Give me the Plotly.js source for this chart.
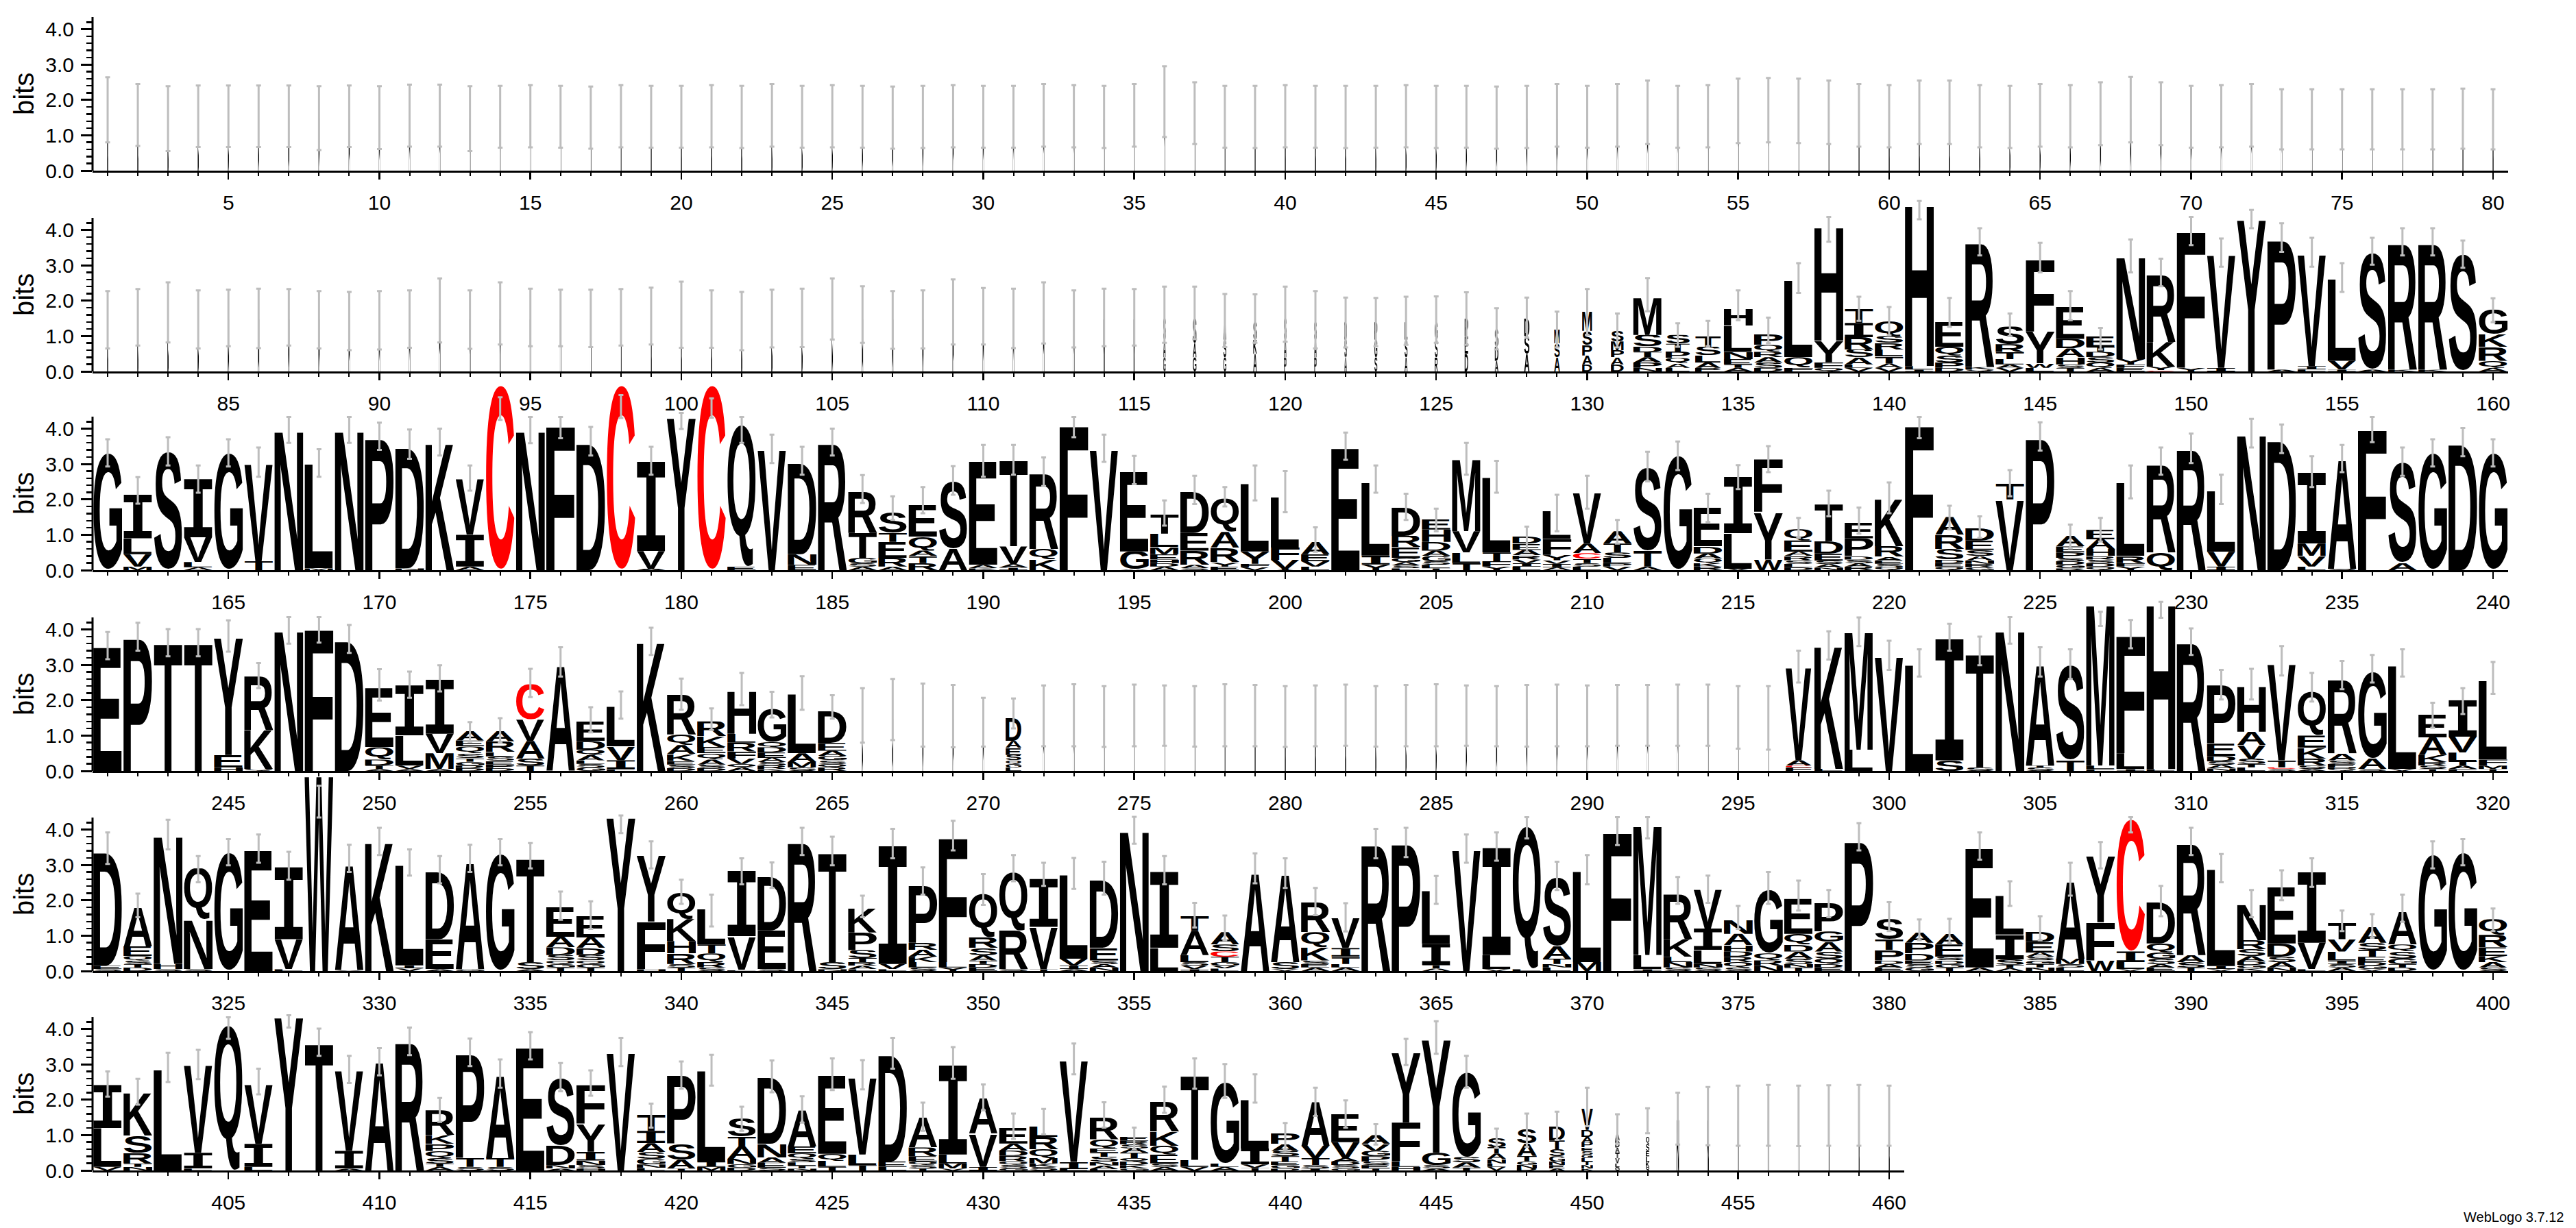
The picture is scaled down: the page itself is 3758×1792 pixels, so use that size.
<!DOCTYPE html>
<html>
<head>
<meta charset="utf-8">
<script src="https://cdn.plot.ly/plotly-3.0.1.min.js"></script>
<style>
html,body{margin:0;padding:0;background:#ffffff;}
#chart{width:3758px;height:1792px;}
</style>
</head>
<body>
<div id="chart"></div>
<script>
// ================= DATA =================
// first position of each of the six logo lines
const rowFirst = [1, 81, 161, 241, 321, 401];
const yTickVals = [0, 1, 2, 3, 4];
const yTickText = ['0.0', '1.0', '2.0', '3.0', '4.0'];
const yMinorVals = [0.2,0.4,0.6,0.8,1.2,1.4,1.6,1.8,2.2,2.4,2.6,2.8,3.2,3.4,3.6,3.8,4.2];
const yTitle = 'bits';
const footerText = 'WebLogo 3.7.12';
const redLetters = ['C'];

// stacks: letters (top to bottom) with height in bits
const stacks1 = [
"N1.5","N1.5","N1.5","N1.5","N1.5","N1.5","N1.5","N1.5","N1.5","N1.5",
"N1.5","N1.5","N1.5","N1.5","N1.5","N1.5","N1.5","N1.5","N1.5","N1.5",
"N1.5","N1.5","N1.5","N1.5","N1.5","N1.5","N1.5","N1.5","N1.5","N1.5",
"N1.5","N1.5","N1.5","N1.5","N1.5","N1.5","N1.5","N1.5","N1.5","N1.5",
"N1.5","N1.5","N1.5","N1.5","N1.5","N1.5","N1.5","N1.5","N1.5","N1.5",
"N1.5","N1.5","N1.5","N1.5","N1.5","N1.5","N1.5","N1.5","N1.5","N1.5",
"N1.5","N1.5","N1.5","N1.5","N1.5","N1.5","N1.5","N1.5","N1.5","N1.5",
"N1.5","N1.5","N1.5","N1.5","N1.5","N1.5","N1.5","N1.5","N1.5","N1.5"];
const occ1 = [
.035,.035,.035,.035,.035,.035,.035,.035,.035,.035, .035,.035,.035,.035,.035,.035,.035,.035,.035,.035,
.035,.035,.035,.035,.035,.035,.035,.035,.035,.035, .035,.035,.035,.035,.035,.035,.035,.035,.035,.035,
.035,.035,.035,.035,.035,.035,.035,.035,.035,.035, .035,.035,.035,.035,.035,.035,.035,.035,.035,.035,
.035,.035,.035,.035,.035,.035,.035,.035,.035,.035, .035,.035,.035,.035,.035,.035,.035,.035,.035,.035];
const hi1 = [
2.64,2.45,2.39,2.41,2.41,2.41,2.41,2.39,2.41,2.39, 2.43,2.43,2.39,2.4,2.42,2.4,2.38,2.42,2.4,2.4,
2.42,2.4,2.45,2.4,2.42,2.4,2.38,2.4,2.42,2.4, 2.4,2.45,2.42,2.4,2.45,2.95,2.5,2.4,2.4,2.42,
2.4,2.4,2.4,2.42,2.4,2.4,2.38,2.4,2.45,2.4, 2.45,2.55,2.4,2.42,2.6,2.62,2.6,2.55,2.45,2.42,
2.55,2.55,2.42,2.4,2.45,2.42,2.5,2.65,2.5,2.4, 2.42,2.45,2.3,2.3,2.3,2.3,2.3,2.3,2.32,2.3];
const lo1 = [
.8,.7,.55,.67,.67,.67,.67,.58,.67,.61, .68,.68,.55,.65,.66,.65,.62,.66,.65,.65,
.66,.64,.68,.65,.66,.65,.62,.64,.66,.65, .65,.68,.66,.64,.68,.95,.75,.65,.64,.66,
.65,.64,.65,.66,.64,.65,.62,.64,.68,.65, .68,.75,.65,.66,.78,.8,.78,.75,.68,.66,
.75,.75,.66,.64,.68,.66,.72,.8,.72,.65, .66,.68,.6,.6,.6,.6,.6,.6,.62,.6];

const stacks2 = [
"N1.5","N1.5","N1.5","N1.5","N1.5","N1.5","N1.5","N1.5","N1.5","N1.5",
"N1.5","N1.5","N1.5","N1.5","N1.5","N1.5","N1.5","N1.5","N1.5","N1.5",
"N1.5","N1.5","N1.5","N1.5","N1.5","N1.5","N1.5","N1.5","N1.5","N1.5",
"N1.5","N1.5","N1.5","N1.5","N1.5",
"S.6 A.5 G.4","S.7 A.4 G.4","A.5 S.5 G.4","S.5 K.4 A.5","S.6 A.5 P.4",
"S.5 A.5 P.4","D.5 S.5 A.4","P.5 G.5 S.4","L.5 S.5 A.4","G.5 S.5 R.4",
"P.5 E.5 D.5","S.5 D.4 A.3","D.5 S.5 A.5","M.4 S.4 A.4","M.55 S.4 P.3 A.25 D.2",
"S.3 M.25 P.2 A.2 D.2","M1.05 S.32 D.16 T.15 A.15 P.15 N.1","S.25 T.22 P.18 Q.15 A.13 L.1","T.3 S.25 L.2 A.15 P.1","H.48 L.74 N.2 E.15 T.1 A.1",
"P.3 Q.2 R.15 A.15 S.15 D.1","L2.2 Q.3 F.1","H3.24 Y.61 F.16 Q.1","T.4 I.4 R.35 S.22 A.2 L.1 V.1","Q.42 S.2 R.18 L.2 T.2 A.12 V.1",
"H4.6 L.1 I.05","E.7 Q.25 S.2 P.15 D.1","R3.55 K.07 Q.05","S.5 R.22 T.2 L.15 A.1 V.1","F2.07 Y.9 W.13 L.1",
"E.95 D.27 A.25 H.2 S.1 T.1","E.3 T.15 D.15 S.15 Q.15 A.1","N2.9 Y.15 F.1 E.1","R1.93 K.7 Y.1 C.03","F3.9 Y.1",
"V3.25 I.1","Y4.35","P3.7 A.05","V3.2 I.1 L.05","L2.35 V.25 I.05",
"S3.3 A.05","R3.6 K.05","R3.6 K.05","S3.3","G.7 K.35 R.4 Q.2 A.1"];
const occ2 = [
.04,.04,.04,.04,.04,.04,.04,.04,.04,.04, .04,.04,.04,.04,.04,.04,.04,.04,.04,.04,
.04,.04,.04,.04,.04,.04,.04,.04,.04,.04, .04,.04,.04,.05,.05,
.08,.12,.1,.12,.08, .08,.08,.1,.1,.1, .12,.12,.18,.2,.35, .45,1,.85,.9,1,
1,1,1,1,1, 1,1,1,1,1, 1,1,1,1,1, 1,1,1,1,1, 1,1,1,1,1];
const hi2 = [
2.27,2.33,2.52,2.29,2.31,2.34,2.33,2.27,2.25,2.27, 2.29,2.63,2.29,2.52,2.34,2.31,2.31,2.33,2.37,2.54,
2.29,2.25,2.31,2.34,2.63,2.41,2.27,2.29,2.6,2.36, 2.34,2.52,2.29,2.34,2.33,2.4,2.4,2.19,2.18,2.4,
2.27,2.09,2.08,2.11,2.12,2.24,1.79,2.09,1.69,2.33, 1.64,2.64,1.36,1.43,2.29,1.52,3.06,4.37,2.11,1.82,
4.82,2.08,4.05,1.64,3.64,2.27,1.23,3.73,3.19,4.37, 3.76,4.57,4.19,3.78,3.06,3.78,4.05,4.05,3.7,2.07];
const lo2 = [
.65,.73,.82,.65,.71,.66,.73,.65,.6,.62, .67,.82,.64,.76,.71,.71,.69,.73,.76,.67,
.67,.6,.68,.69,.9,.81,.64,.65,.76,.76, .66,.79,.68,.71,.73,.81,.91,.69,.81,.84,
.65,.68,.71,.75,.81,.75,.62,.95,.68,1.03, .68,1.7,.7,.71,1.45,.8,2.22,3.67,1.43,1.02,
4.3,1.26,3.28,1.0,2.8,1.45,.62,2.8,2.41,3.57, 2.96,4.05,3.38,2.96,2.25,3.02,3.28,3.28,2.93,1.39];

const stacks3 = [
"G3.3","I1.25 L.45 V.35 M.1","S3.35","I1.65 V.7 L.15 A.08","G3.31","V2.8 T.25","N3.97","L3.0 M.05","N3.97","P3.76",
"D3.45 N.05","K3.62","V1.6 I.9 A.1","C5.24","N3.97","F4.12","D3.62","C5.24","I2.55 V.5 A.04","Y4.37",
"C5.24","Q4.0 E.1","V3.44","D2.6 N.3 E.15","R3.62","R1.2 T.7 G.15 S.1 A.1","S.6 T.25 E.45 R.25 A.1","E.9 Q.4 A.15 T.2 R.2","S1.9 A.6","E2.95 A.1 K.05",
"T2.45 V.5 A.1 I.07","R2.15 Q.3 K.3","F4.13","V3.44","E2.3 G.5 A.03","T.55 L.38 M.2 E.15 H.1 D.1 A.1","D1.2 E.5 R.4 A.1 S.05","Q.95 A.45 R.4 Y.13 E.1","L1.95 Y.35 F.1 V.08","L1.45 F.35 V.25 Y.04",
"A.35 E.2 V.15 L.1","E3.5","L2.1 I.25 Y.16","D.8 R.32 E.3 G.12 A.1 S.08 L.05","E.3 H.35 D.25 A.15 G.15 S.1 L.1 T.05","M2.05 V.6 L.3 T.2","L2.15 T.25 F.15 Y.1","D.2 E.18 A.15 R.12 V.1 I.1 L.1","L.8 F.45 Y.15 V.1 I.1 A.08","V1.45 A.27 C.16 T.12 S.1 L.1",
"A.35 T.25 S.15 L.15 P.1 V.1","S2.35 T.45 A.1","G3.22","E1.1 D.2 A.15 Q.12 K.1 R.1","I1.6 L1.0 V.04","F1.5 Y1.35 W.3","Q.32 E.32 A.12 R.12 S.1 L.1 D.08","T1.05 D.35 E.2 S.1 A.1 N.07","E.45 P.5 D.1 S.1 A.1 R.1","K1.35 R.3 A.1 E.1 S.1 Q.08",
"F4.13","A.5 R.4 S.3 D.1 E.1 Q.1","D.35 E.27 S.17 A.12 N.1 R.1 G.08","T.45 V2.0","P3.76","A.3 E.17 P.15 S.1 D.1 G.1 R.05","E.27 A.27 H.2 R.1 S.1 D.1 Q.1","L2.1 R.2 F.1 Y.1","R2.5 Q.5","R3.44",
"L1.75 V.42 I.1","N3.86","D3.7","I2.0 M.35 V.3 L.1","A3.1 S.04","F4.02","S2.85 A.2","G3.31","D3.6","G3.31"];
const occ3 = [
1,1,1,1,1,1,1,1,1,1, 1,1,1,1,1,1,1,1,1,1, 1,1,1,1,1,1,1,1,1,1, 1,1,1,1,1,1,1,1,1,1,
1,1,1,1,1,1,1,1,1,1, 1,1,1,1,1,1,1,1,1,1, 1,1,1,1,1,1,1,1,1,1, 1,1,1,1,1,1,1,1,1,1];
const hi3 = [
3.7,2.63,3.76,2.96,3.7,3.47,4.33,3.42,4.33,4.17, 3.98,4.0,2.96,4.89,4.33,4.33,4.05,4.95,3.49,4.45,
4.86,4.33,3.83,3.49,4.0,2.69,2.09,2.35,2.94,3.54, 3.54,3.19,4.33,3.83,3.23,1.97,2.67,2.35,2.96,2.8,
1.21,3.89,2.96,2.16,1.74,3.6,3.09,1.23,2.13,2.67, 1.42,3.35,3.64,2.16,2.97,3.51,1.48,2.25,1.77,2.48,
4.33,1.82,1.52,2.83,4.18,1.29,1.48,2.96,3.47,3.86, 2.7,4.28,4.12,3.22,3.54,4.33,3.47,3.7,4.02,3.7];
const lo3 = [
2.93,1.88,2.96,2.19,2.93,2.64,3.6,2.64,3.6,3.4, 3.15,3.24,2.25,4.25,3.59,3.73,3.24,4.3,2.7,3.99,
4.31,3.6,3.03,2.7,3.24,1.9,1.42,1.61,2.13,2.64, 2.7,2.38,3.76,3.06,2.43,1.26,1.87,1.8,1.97,1.64,
.52,3.12,2.19,1.42,1.1,2.7,2.19,.52,1.1,1.74, .75,2.51,2.83,1.36,2.29,2.77,.91,1.52,1.03,1.61,
3.73,1.16,.91,2.09,3.38,.62,.81,2.03,2.7,3.03, 1.87,3.47,3.31,2.35,2.77,3.62,2.67,2.93,3.22,2.93];

const stacks4 = [
"E3.55","P3.79","T3.64","T3.64","Y3.35 E.35 H.1","R1.55 K1.1 Q.05","N4.0","F4.05","D3.72","E1.7 Q.35 D.17 T.1 A.05",
"I1.42 L.85 V.1 A.05","I1.55 V.55 M.45 A.05","A.28 E.17 Q.2 S.13 T.1 G.1 R.08 D.08","A.3 R.3 L.13 S.13 E.1 P.1 D.08","C1.0 V.6 A.5 S.2 T.15","A3.0","E.55 D.25 Q.15 A.15 L.1 S.1 G.1","L1.15 V.4 I.25 F.05","K3.67","R1.15 Q.3 A.25 K.2 E.1 S.1 D.08",
"R.42 K.3 E.18 Q.18 A.14 S.1 D.08","H1.22 L.25 R.25 F.2 V.15 Q.1 A.1","G.95 Q.15 D.15 E.15 A.12 S.1 R.1 K.05","L1.7 A.25 M.15 S.1","D.9 E.22 A.15 G.12 S.1 Q.1 R.1",
"N1.5","N1.5","N1.5","N1.5","N1.5",
"D.65 A.2 E.2 S.15 Q.1 G.1 L.1",
"N1.5","N1.5","N1.5","N1.5","N1.5","N1.5","N1.5","N1.5","N1.5","N1.5",
"N1.5","N1.5","N1.5","N1.5","N1.5","N1.5","N1.5","N1.5","N1.5","N1.5",
"N1.5","N1.5","N1.5","N1.5","N1.5",
"V2.65 A.15 C.05 F.1","K3.5 L.06","M3.35 L.6","V3.27","L3.05","I3.45 S.3","T3.25 S.1","N4.0","A2.85 T.05 S.1","S2.7 T.3",
"M4.6 L.1 F.05","F3.35 L.45 I.05","H4.7 L.05","R3.66","P1.67 E.35 D.15 S.1 A.1 N.07","H1.28 A.38 V.38 S.15 T.1 L.1","V2.75 T.2 C.05 S.05","Q1.25 E.35 K.3 R.2 S.1 A.05","R2.1 A.2 S.1 E.1 D.05 Q.05","G2.45 A.3 S.05",
"L2.95 V.05","E.65 A.5 K.2 R.1 S.1 T.05","I1.03 V.45 L.25 T.12 A.1 F.05","L2.25 F.17 M.1 T.05"];
const occ4 = [
1,1,1,1,1,1,1,1,1,1, 1,1,1,1,1,1,1,1,1,1, 1,1,1,1,1,
.035,.035,.035,.035,.035, .55,
.035,.035,.035,.035,.035,.035,.035,.035,.035,.035, .035,.035,.035,.035,.035,.035,.035,.035,.035,.035, .035,.035,.035,.035,.035,
.9,1,1,1,1,1,1,1,1,1, 1,1,1,1,1,1,1,1,1,1, 1,1,1,1];
const hi4 = [
3.93,4.19,4.01,4.01,4.26,3.05,4.35,4.35,4.13,2.88, 2.81,2.99,1.38,1.49,2.89,3.5,1.8,2.25,4.05,2.61,
1.77,2.77,2.24,2.68,2.14,2.34,2.6,2.47,2.43,2.07, 2.05,2.42,2.45,2.4,2.44,2.42,2.4,2.45,2.43,2.4,
2.42,2.44,2.4,2.43,2.45,2.42,2.4,2.43,2.44,2.42, 2.43,2.43,2.44,2.44,2.4,2.4,3.4,3.95,4.34,3.68,
3.44,4.16,3.8,4.35,3.5,3.44,4.5,4.27,4.78,4.03, 2.86,2.89,3.53,2.77,3.11,3.28,3.44,1.93,2.34,3.08];
const lo4 = [
3.16,3.4,3.24,3.24,3.37,2.34,3.6,3.63,3.34,1.99, 2.07,2.25,.83,.8,2.09,2.67,1.09,1.48,3.28,1.73,
1.16,1.86,1.51,1.73,1.48,.8,.87,.69,.67,.69, 1.2,.7,.7,.68,.7,.71,.69,.7,.7,.68,
.7,.71,.69,.7,.7,.71,.7,.69,.7,.7, .71,.71,.71,.71,.63,.6,2.5,3.15,3.53,2.86,
2.67,3.4,2.99,3.6,2.67,2.6,4.1,3.47,4.33,3.28, 2.02,2.02,2.7,1.96,2.31,2.5,2.67,1.22,1.61,2.18];

const stacks5 = [
"D3.25 E.1 S.05","A1.1 E.28 Q.12 S.1 T.1 D.1","N3.65 H.15 S.05","Q1.45 N1.4 S.05","G3.35","E3.46","I2.05 V.85 L.05","W5.6","A3.0 V.02","K3.67",
"L2.85 I.1 V.07","D1.95 E.85 A.05","A3.05 G.05","G3.3","T2.95 S.2 A.05","E.85 A.3 D.22 S.15 Q.1 G.1 T.1","E.6 A.3 D.2 S.15 Q.1 G.1 T.1","Y4.4","Y1.9 F1.35 H.05","Q.75 K.62 H.35 R.3 S.1 T.1",
"L1.0 T.25 Q.25 R.15 S.1","I1.85 V.95 L.03","D1.55 E1.1 S.05","R3.67","T3.1 S.2 N.05","K.68 P.5 S.22 T.12 R.1 A.1 L.05","I3.35 V.15 L.05","P1.65 R.2 A.2 K.15 L.15 S.1","F3.55 L.15 Y.1","Q1.25 R.3 S.2 A.15 T.1 D.1 E.1",
"Q1.65 R1.1 S.05","I1.38 V1.2 T.05","L2.4 V.2 I.1 A.05","D1.95 E.35 S.1 A.1 N.1","N3.99","I2.15 L.65","T.42 A.68 L.2 S.1 V.1 I.05","A.35 S.2 C.15 T.15 G.1 V.08 L.07","A2.8","A2.5 S.2 V.05",
"R.85 Q.42 K.38 S.1 E.1 A.1","V.85 I.25 T.2 L.1 A.1","R3.6","P3.63","L1.5 I.6 T.1 A.07","V3.47","I3.05 L.4 V.05","Q4.05 L.05","S1.95 A.35 T.15 N.1 L.1","L2.6 M.25",
"F3.96","M3.7 L.4 I.05","R1.28 K.5 L.15 N.15 S.1","V1.1 I.6 L.4 N.1 S.1","N.4 A.32 H.18 D.15 R.15 Q.15 S.1","G1.8 Q.2 R.15 N.15","E1.0 Q.3 D.2 A.2 S.15 N.1 T.1","P.8 G.3 A.27 S.2 Q.15 D.1 E.1","P3.7","S.58 T.3 P.3 D.1 A.1 E.1",
"A.3 P.3 D.2 E.1 S.1 G.1","A.3 E.35 S.1 D.1 G.1 T.1","E3.4 A.1","L1.1 I.7 S.15 T.1 A.08","D.3 E.3 A.12 S.1 G.1 T.1 N.1","A2.2 M.15 S.1 L.1","Y1.9 F1.08 W.3","C3.75 I.3 L.2 V.05","D1.2 Q.25 G.18 S.15 A.1 E.1","R3.2 A.2 S.15 T.1",
"L2.75 I.1 V.05","N1.0 R.25 S.2 A.15 D.1 G.1 K.07","E1.62 D.38 S.15 A.15 N.1","I2.0 V.75 L.05","T.48 V.35 L.25 I.1 S.1 A.1","A.45 S.2 T.2 E.15 D.1 G.1 V.05","A.95 Q.2 S.2 G.15 T.1 D.1","G3.28","G3.35","Q.45 R.35 E.25 K.17 A.15 S.1"];
const occ5 = [
1,1,1,1,1,1,1,1,1,1, 1,1,1,1,1,1,1,1,1,1, 1,1,1,1,1,1,1,1,1,1, 1,1,1,1,1,1,1,1,1,1,
1,1,1,1,1,1,1,1,1,1, 1,1,1,1,1,1,1,1,1,1, 1,1,1,1,1,1,1,1,1,1, 1,1,1,1,1,1,1,1,1,1];
const hi5 = [
3.92,2.19,4.28,3.25,3.73,3.86,3.37,5.24,3.57,4.05, 3.44,3.25,3.57,3.73,3.62,2.25,1.97,4.4,3.67,2.58,
2.16,3.19,3.07,4.05,3.8,2.13,4.02,2.93,4.25,2.74, 3.28,3.06,3.2,3.09,4.36,3.25,1.93,1.57,3.33,3.19,
2.35,1.92,4.02,4.05,2.69,3.86,3.92,4.35,3.09,3.28, 4.35,4.35,2.66,2.7,1.84,2.8,2.56,2.29,4.18,1.95,
1.46,1.48,3.92,2.54,1.55,3.06,3.65,4.35,2.41,4.05, 3.31,2.29,2.85,3.19,1.71,1.61,2.16,3.67,3.73,1.77];
const lo5 = [
3.03,1.52,3.44,2.51,2.99,3.06,2.58,4.34,2.8,3.28, 2.7,2.48,2.8,2.99,2.9,1.45,1.19,3.9,2.9,1.9,
1.26,2.45,2.35,3.28,2.99,1.52,3.19,2.16,3.41,1.87, 2.54,2.41,2.32,2.16,3.6,2.45,1.23,.87,2.48,2.35,
1.58,1.12,3.19,3.22,1.9,3.06,3.12,3.75,2.29,2.45, 3.56,3.75,1.9,1.93,1.19,1.9,1.71,1.52,3.41,1.13,
.87,.78,3.15,1.84,.87,2.13,2.9,3.92,1.55,3.28, 2.51,1.52,2.0,2.38,1.13,.94,1.39,2.9,2.99,1.13];

const stacks6 = [
"I1.22 L1.1 V.1","K1.22 S.48 R.3 T.1 N.1","L2.88","V2.5 I.45 L.05","Q4.1","V1.7 I.65 L.1","Y4.39","T3.62","V2.3 I.5 A.05","A3.07",
"R3.65","R.7 K.25 P.2 Q.2 S.15 T.1 A.1","P2.95 T.25 S.1","A2.35 T.25 S.1","E3.52","S1.9 D.55 N.1 A.05","F1.1 Y.78 I.25 N.13 S.1 H.05","V3.37","T.45 I.35 A.25 S.2 G.15 N.1 L.07","P1.95 S.45 A.25 T.05",
"L2.6 I.15 M.1","S.52 T.27 A.35 N.15 G.1 D.08","D1.9 N.38 A.15 E.15 S.07","A1.02 E.2 Q.15 S.1 L.1 T.08 N.05","E2.25 Q.2 L.17 T.1","V2.2 L.3 T.15","D3.05 E.15 L.1","A.85 R.25 E.15 Q.1 S.1 T.05","I2.55 L.25 M.15 V.05","A1.0 V.95 I.1",
"E.45 A.2 D.15 R.15 Q.1 S.1 G.06","L.3 R.35 Q.25 M.15 K.1 S.1","V2.9 I.2 L.04","R.62 Q.25 E.12 T.12 S.15 N.1 A.1 L.04","E.12 R.1 S.12 A.12 T.15 Q.1 D.1 K.1 G.05","R.85 K.4 Q.25 E.25 S.1 A.1","T2.4 L.2 V.1","G2.3 L.1 A.1","L1.4 I.45 V.1 T.07","P.3 A.2 S.15 T.15 E.1 G.1 D.05",
"A1.25 V.35 T.2 S.1 I.05","E.8 V.45 A.1 D.1 S.1 G.05","A.25 V.2 G.15 P.15 S.1 E.1 T.05","Y2.0 F1.1 L.15 H.1","Y3.25 G.35 S.1 A.05","G2.41 S.15 A.15 T.08","S.25 T.18 A.15 N.13 L.1 V.1","S.42 A.35 T.15 G.1 N.1 D.06","D.4 T.25 S.2 G.15 N.1 E.1 A.05","V.6 D.2 A.15 P.15 E.1 S.1 G.1 L.1 T.1 N.1 K.05",
"A.2 D.2 A.15 T.15 V.15 L.1 G.1","Q.2 S.2 E.15 L.15 K.15 Q.1","N1.45","N1.45","N1.45","N1.45","N1.45","N1.45","N1.45","N1.45"];
const occ6 = [
1,1,1,1,1,1,1,1,1,1, 1,1,1,1,1,1,1,1,1,1, 1,1,1,1,1,1,1,1,1,1, 1,1,1,1,1,1,1,1,1,1,
1,1,1,1,1,1,.65,.7,.55,.4, .15,.12,.08,.06,.04,.04,.04,.04,.04,.04];
const hi6 = [
2.8,2.59,3.33,3.41,4.33,2.88,4.39,4.01,3.24,3.46, 4.04,2.05,3.73,3.14,3.91,3.04,2.83,3.75,1.89,3.08,
3.27,1.8,3.11,2.1,3.17,3.12,3.75,1.92,3.49,2.43, 1.61,1.74,3.59,1.93,1.21,2.37,3.17,3.01,2.72,1.34,
2.34,1.98,1.31,3.72,4.22,3.24,1.18,1.61,1.66,2.34, 1.59,1.76,2.2,2.36,2.4,2.42,2.4,2.41,2.42,2.4];
const lo6 = [
2.09,1.86,2.5,2.58,3.72,2.15,4.04,3.24,2.47,2.69, 3.26,1.37,2.95,2.34,3.14,2.24,2.11,2.95,1.21,2.31,
2.4,1.12,2.21,1.35,2.27,2.29,2.88,1.12,2.59,1.7, .89,1.02,2.72,1.21,.6,1.63,2.31,2.05,1.92,.6,
1.54,1.21,.73,2.98,3.3,2.34,.64,.67,.86,1.25, .75,1.05,.73,.71,.7,.7,.69,.7,.7,.7];

// ================= LAYOUT CONSTANTS =================
const W = 3758, H = 1792;
const X0 = 135, PX_POS = 44.05, PX_BIT = 51.6;
const AXIS_Y = [249, 542, 832, 1125, 1417, 1708];
const TOP_BITS = [4.8, 5.45, 5.45, 5.45, 5.7, 5.6];
const AXIS_TOP = 4.34;
const STACK_W = 0.96;
const RASTER_BELOW_PX = 8;
const LETTER_FONT = "'Liberation Sans', Arial, Helvetica, sans-serif";
const I_FONT = "'DejaVu Sans Mono', 'Liberation Mono', monospace";
const LABEL_FONT = "Liberation Sans, Arial, Helvetica, sans-serif";
const ERR_COLOR = '#bdbdbd';

const rows = [
  {stacks: stacks1, occ: occ1, lo: lo1, hi: hi1},
  {stacks: stacks2, occ: occ2, lo: lo2, hi: hi2},
  {stacks: stacks3, occ: occ3, lo: lo3, hi: hi3},
  {stacks: stacks4, occ: occ4, lo: lo4, hi: hi4},
  {stacks: stacks5, occ: occ5, lo: lo5, hi: hi5},
  {stacks: stacks6, occ: occ6, lo: lo6, hi: hi6}
];

// ================= GLYPHS =================
const measureCtx = document.createElement('canvas').getContext('2d');
const glyphCache = {};
function glyphBox(ch) {
  const fam = ch === 'I' ? I_FONT : LETTER_FONT;
  measureCtx.font = 'bold 1000px ' + fam;
  const m = measureCtx.measureText(ch);
  return {fam: fam, l: m.actualBoundingBoxLeft, r: m.actualBoundingBoxRight,
          a: m.actualBoundingBoxAscent, d: m.actualBoundingBoxDescent};
}
// vector glyph stretched to fill its box
function glyphSource(ch, color) {
  const key = 'v' + ch + color;
  if (glyphCache[key]) return glyphCache[key];
  const b = glyphBox(ch);
  const w = b.l + b.r, h = b.a + b.d;
  const svg = '<svg xmlns="http://www.w3.org/2000/svg" width="' + w.toFixed(1) + '" height="' + h.toFixed(1) +
    '" viewBox="' + (-b.l).toFixed(2) + ' ' + (-b.a).toFixed(2) + ' ' + w.toFixed(2) + ' ' + h.toFixed(2) +
    '" preserveAspectRatio="none"><text x="0" y="0" font-family="' + b.fam + '" font-weight="bold" font-size="1000" fill="' +
    color + '">' + ch + '</text></svg>';
  const src = 'data:image/svg+xml;charset=utf-8,' + encodeURIComponent(svg);
  glyphCache[key] = src;
  return src;
}
// bitmap glyph for very narrow stacks (vector text vanishes at 1-2 px)
function rasterSource(ch, color) {
  const key = 'r' + ch + color;
  if (glyphCache[key]) return glyphCache[key];
  const b = glyphBox(ch);
  const w = b.l + b.r, h = b.a + b.d;
  const cw = 24, chh = 256;
  const c = document.createElement('canvas');
  c.width = cw; c.height = chh;
  const g = c.getContext('2d');
  g.setTransform(cw / w, 0, 0, chh / h, cw * b.l / w, chh * b.a / h);
  g.font = 'bold 1000px ' + b.fam;
  g.fillStyle = color;
  g.fillText(ch, 0, 0);
  const src = c.toDataURL('image/png');
  glyphCache[key] = src;
  return src;
}
function parseStack(s) {
  return s.trim().split(/\s+/).map(t => ({ch: t[0], h: parseFloat(t.slice(1))}));
}

// ================= BUILD FIGURE =================
const traces = [], images = [], shapes = [], annotations = [];
const layout = {
  width: W, height: H,
  margin: {l: 0, r: 0, t: 0, b: 0},
  paper_bgcolor: '#ffffff', plot_bgcolor: 'rgba(0,0,0,0)',
  showlegend: false, hovermode: false,
  font: {family: LABEL_FONT, size: 30, color: '#000000'}
};

rows.forEach((row, r) => {
  const suf = r === 0 ? '' : String(r + 1);
  const xa = 'x' + suf, ya = 'y' + suf;
  const first = rowFirst[r];
  const n = row.stacks.length;
  const positions = row.stacks.map((_, i) => first + i);

  layout['xaxis' + suf] = {
    domain: [X0 / W, (X0 + n * PX_POS) / W],
    range: [first - 0.5, first + n - 0.5],
    anchor: ya, showline: true, linewidth: 3, linecolor: '#000',
    ticks: 'outside', ticklen: 10, tickwidth: 2.5, tickcolor: '#000',
    tickmode: 'linear', tick0: 0, dtick: 5,
    ticklabelstandoff: 8,
    showgrid: false, zeroline: false, fixedrange: true,
    tickfont: {family: LABEL_FONT, size: 30, color: '#000'},
    minor: {ticks: 'outside', ticklen: 5, tickwidth: 2, tickcolor: '#000', tick0: 0, dtick: 1, showgrid: false}
  };
  const yb = AXIS_Y[r];
  const topPx = yb - TOP_BITS[r] * PX_BIT;
  layout['yaxis' + suf] = {
    domain: [1 - yb / H, 1 - topPx / H],
    range: [0, TOP_BITS[r]],
    anchor: xa, showline: false,
    ticks: 'outside', ticklen: 16, tickwidth: 3, tickcolor: '#000',
    tickmode: 'array', tickvals: yTickVals, ticktext: yTickText,
    ticklabelstandoff: 4,
    showgrid: false, zeroline: false, fixedrange: true,
    tickfont: {family: LABEL_FONT, size: 30, color: '#000'},
    minor: {ticks: 'outside', tickmode: 'array', tickvals: yMinorVals, ticklen: 8, tickwidth: 2.5, tickcolor: '#000', showgrid: false}
  };
  shapes.push({type: 'line', xref: 'paper', yref: ya, x0: X0 / W, x1: X0 / W, y0: 0, y1: AXIS_TOP,
               line: {color: '#000', width: 3}});
  annotations.push({xref: 'paper', yref: ya, x: 35 / W, y: 2.17, text: yTitle, textangle: -90,
                    showarrow: false, xanchor: 'center', yanchor: 'middle',
                    font: {family: LABEL_FONT, size: 40, color: '#000'}});

  row.stacks.forEach((s, i) => {
    const pos = positions[i];
    const w = STACK_W * row.occ[i];
    const narrow = w * PX_POS < RASTER_BELOW_PX;
    let base = 0;
    parseStack(s).reverse().forEach(g => {
      const color = redLetters.indexOf(g.ch) >= 0 ? '#ff0000' : '#000000';
      images.push({source: narrow ? rasterSource(g.ch, color) : glyphSource(g.ch, color),
                   xref: xa, yref: ya,
                   x: pos - w / 2, y: base, sizex: w, sizey: g.h,
                   xanchor: 'left', yanchor: 'bottom', sizing: 'stretch', layer: 'below'});
      base += g.h;
    });
  });

  traces.push({
    type: 'scatter', mode: 'markers', xaxis: xa, yaxis: ya,
    x: positions,
    y: row.lo.map((lo, i) => (lo + row.hi[i]) / 2),
    marker: {size: 1, color: 'rgba(0,0,0,0)'},
    error_y: {type: 'data', symmetric: true, array: row.lo.map((lo, i) => (row.hi[i] - lo) / 2),
              color: ERR_COLOR, thickness: 3, width: 3.5},
    hoverinfo: 'skip', cliponaxis: false
  });
});

annotations.push({xref: 'paper', yref: 'paper', x: 3742 / W, y: (H - 1776) / H, text: footerText,
                  showarrow: false, xanchor: 'right', yanchor: 'middle',
                  font: {family: LABEL_FONT, size: 20, color: '#000'}});

layout.images = images;
layout.shapes = shapes;
layout.annotations = annotations;

Plotly.newPlot('chart', traces, layout, {staticPlot: true, displayModeBar: false});
</script>
</body>
</html>
